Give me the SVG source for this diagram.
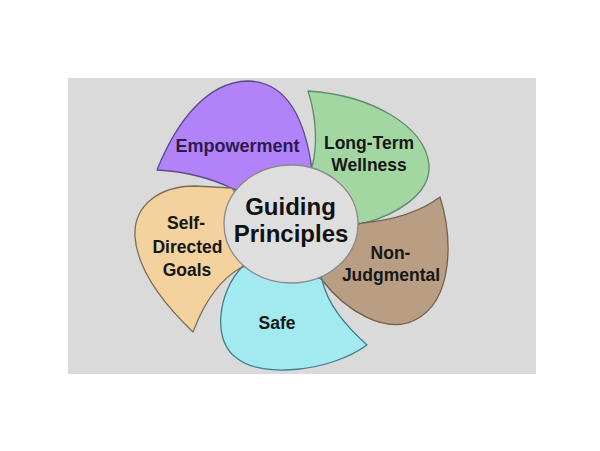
<svg xmlns="http://www.w3.org/2000/svg" width="600" height="451" viewBox="0 0 600 451">
<style>
.petal{stroke-width:1.3;stroke-linejoin:round}
.lbl{font-family:"Liberation Sans",Arial,sans-serif;font-weight:bold;font-size:17.5px;fill:#161616;text-anchor:middle}
.big{font-family:"Liberation Sans",Arial,sans-serif;font-weight:bold;font-size:24px;fill:#111;text-anchor:middle}
</style>
<rect x="0" y="0" width="600" height="451" fill="#ffffff"/>
<rect x="68" y="78" width="468" height="296" fill="#dadada"/>
<g id="empowerment">
<path class="petal" fill="#b283f8" stroke="#5b4a8a" d="M157,170 C175,125 205,82 248,81 C290,82 306,125 312,170 L290,205 L233,189 C212,178 182,171 157,170 Z"/>
<text class="lbl" x="237.5" y="152" style="font-size:18px;fill:#2d1b4e">Empowerment</text>
</g>
<g id="wellness">
<path class="petal" fill="#a3d7a2" stroke="#5e8a6e" d="M308,91 C370,95 425,125 429,165 C431,195 395,215 362,224 L300,205 L312,167 C318,145 316,115 308,91 Z"/>
<text class="lbl" x="369" y="148.5">Long-Term</text>
<text class="lbl" x="369" y="170.5">Wellness</text>
</g>
<g id="nonjudgmental">
<path class="petal" fill="#b99e83" stroke="#6f6050" d="M440,197 C452,235 455,300 415,320 C385,335 345,310 322,280 L310,240 L362,223 C395,220 420,212 440,197 Z"/>
<text class="lbl" x="390.5" y="258.5">Non-</text>
<text class="lbl" x="391" y="280.5">Judgmental</text>
</g>
<g id="safe">
<path class="petal" fill="#a3eaf0" stroke="#3f7d8e" d="M367,345 C345,325 328,305 322,280 L290,260 L242,267 C218,292 211,342 238,359 C262,378 330,372 367,345 Z"/>
<text class="lbl" x="277" y="329">Safe</text>
</g>
<g id="selfdirected">
<path class="petal" fill="#f3d29e" stroke="#7a6e5a" d="M193,332 C170,310 138,275 135,237 C133,205 160,186 195,186 L232,188 L260,230 L242,267 C222,278 205,300 193,332 Z"/>
<text class="lbl" x="186" y="228.5">Self-</text>
<text class="lbl" x="187.5" y="252.5">Directed</text>
<text class="lbl" x="187" y="276">Goals</text>
</g>
<g id="guiding">
<ellipse cx="291" cy="224" rx="67" ry="59" fill="#dedede" stroke="#8a8a8a" stroke-width="1.3"/>
<text class="big" x="290.5" y="215">Guiding</text>
<text class="big" x="291" y="241.5">Principles</text>
</g>
<g id="connectors"/>
</svg>
